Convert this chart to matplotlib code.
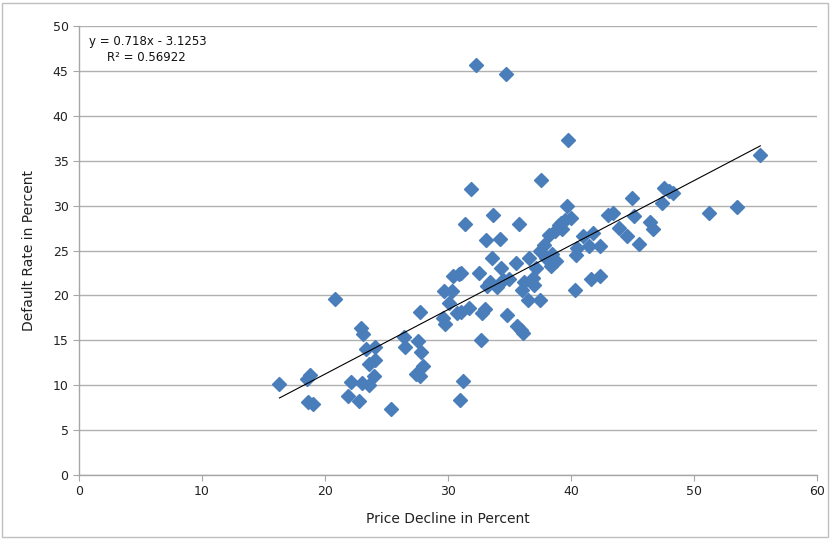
import matplotlib
matplotlib.use("Agg")
import matplotlib.pyplot as plt
from matplotlib.patches import Rectangle
import numpy as np

price_decline = [16.3, 18.5, 18.8, 18.6, 19.0, 20.8, 21.9, 22.1, 22.8, 22.9, 23.1, 23.0, 23.3, 23.6,
                 23.6, 24.0, 24.1, 24.1, 25.4, 26.4, 26.5, 27.4, 27.7, 27.6, 27.8, 28.0, 27.7, 29.7,
                 29.6, 29.8, 30.1, 30.3, 30.4, 30.7, 30.9, 31.1, 31.0, 31.2, 31.4, 31.1, 31.7, 31.9,
                 32.3, 32.5, 32.7, 32.8, 33.0, 33.1, 33.2, 33.4, 33.6, 33.7, 34.0, 34.2, 34.3, 34.5,
                 34.7, 34.8, 35.0, 35.5, 35.6, 35.8, 35.9, 36.0, 36.1, 36.2, 36.5, 36.6, 36.9, 37.0,
                 37.2, 37.5, 37.5, 37.6, 37.8, 38.0, 38.2, 38.4, 38.5, 38.7, 38.8, 39.0, 39.2, 39.3,
                 39.5, 39.7, 39.8, 40.0, 40.3, 40.4, 40.5, 41.0, 41.5, 41.6, 41.8, 42.4, 42.4, 43.0,
                 43.4, 43.9, 44.6, 45.0, 45.1, 45.5, 46.4, 46.7, 47.4, 47.6, 48.0, 48.3, 51.2, 53.5,
                 55.4]
default_rate = [10.1, 10.7, 11.1, 8.1, 7.9, 19.6, 8.8, 10.4, 8.2, 16.4, 15.7, 10.2, 14.0, 12.4,
                10.0, 11.0, 12.8, 14.3, 7.4, 15.4, 14.3, 11.3, 11.0, 14.9, 13.7, 12.1, 18.2, 20.5,
                17.5, 16.8, 19.2, 20.5, 22.2, 18.0, 22.4, 22.5, 8.4, 10.5, 28.0, 18.1, 18.6, 31.8,
                45.6, 22.5, 15.0, 18.0, 18.5, 26.2, 21.0, 21.5, 24.2, 28.9, 20.9, 26.3, 23.0, 21.7,
                44.7, 17.8, 21.8, 23.6, 16.6, 28.0, 16.1, 20.6, 15.8, 21.5, 19.5, 24.2, 21.9, 21.2,
                23.0, 19.5, 24.9, 32.9, 25.6, 24.2, 26.7, 23.3, 24.6, 27.2, 23.8, 27.8, 28.1, 27.4,
                28.4, 30.0, 37.3, 28.6, 20.6, 24.5, 25.3, 26.6, 25.5, 21.8, 26.9, 22.2, 25.5, 28.9,
                29.2, 27.5, 26.6, 30.8, 28.8, 25.7, 28.2, 27.4, 30.3, 32.0, 31.6, 31.4, 29.2, 29.8,
                35.6]

slope = 0.718
intercept = -3.1253
r_squared = 0.56922
x_ticks = [0, 10, 20, 30, 40, 50, 60]
y_ticks = [0, 5, 10, 15, 20, 25, 30, 35, 40, 45, 50]

fig = plt.figure(figsize=(8.3, 5.39), dpi=100)
ax = fig.add_axes([0.0952, 0.1187, 0.8890, 0.8331])

ax.scatter(price_decline, default_rate, marker='D', s=48, color='#4A7EBB',
           edgecolors='#4A7EBB', linewidths=1.2, zorder=3)

xl = np.array([min(price_decline), max(price_decline)])
ax.plot(xl, slope * xl + intercept, color='black', linewidth=0.8, zorder=4)

ax.set_xlim(0, 60)
ax.set_ylim(0, 50)
ax.set_xticks(x_ticks)
ax.set_yticks(y_ticks)
ax.yaxis.grid(True, color='#B0B0B0', linewidth=1.0)
ax.set_axisbelow(True)
for s in ['top', 'right']:
    ax.spines[s].set_visible(False)
for s in ['left', 'bottom']:
    ax.spines[s].set_color('#A6A6A6')
    ax.spines[s].set_linewidth(1.0)
ax.tick_params(axis='both', direction='out', length=4, color='#A6A6A6', labelsize=9,
               labelcolor='#222222')
ax.set_xlabel('Price Decline in Percent', fontsize=10, color='#222222', labelpad=10)
ax.set_ylabel('Default Rate in Percent', fontsize=10, color='#222222', labelpad=12)

ax.text(0.014, 0.966, f'y = {slope}x - {abs(intercept)}', transform=ax.transAxes,
        fontsize=8.5, ha='left', va='center', color='#111111')
ax.text(0.038, 0.930, f'R² = {r_squared}', transform=ax.transAxes,
        fontsize=8.5, ha='left', va='center', color='#111111')

fig.patches.append(Rectangle((0.003, 0.003), 0.994, 0.992, transform=fig.transFigure,
                             fill=False, edgecolor='#BFBFBF', linewidth=1.0))

fig.savefig('out.png', dpi=100)
